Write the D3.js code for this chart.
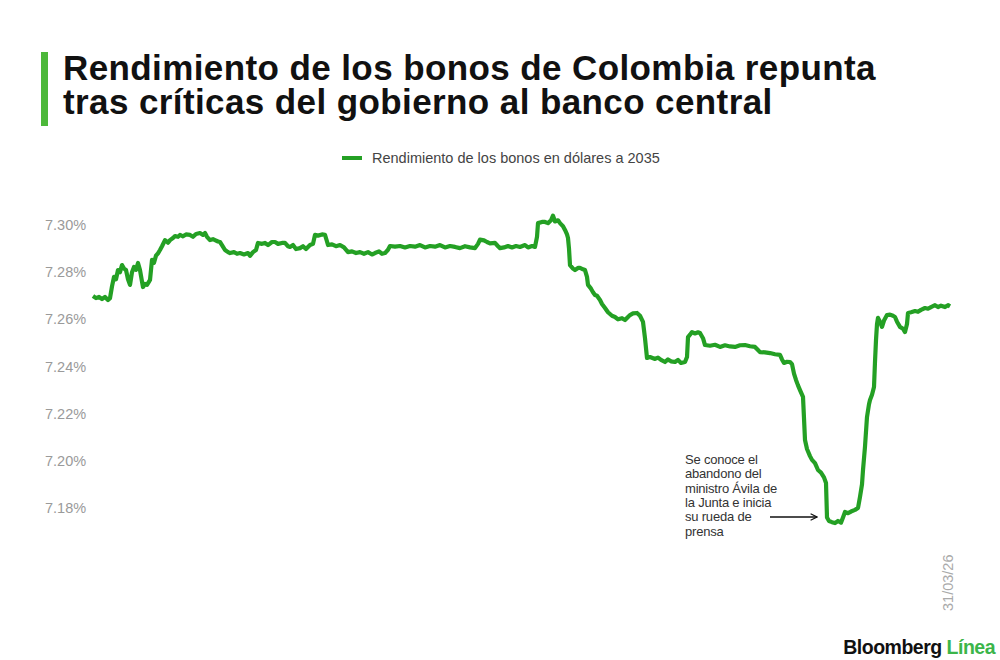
<!DOCTYPE html>
<html><head><meta charset="utf-8">
<script src="https://cdn.jsdelivr.net/npm/d3@7"></script>
<style>
html,body{margin:0;padding:0;background:#fff;}
svg{display:block;font-family:"Liberation Sans",Arial,sans-serif;}
</style></head><body>
<svg id="c" width="1000" height="660"></svg>
<script>
// Minutes elapsed since the start of the session (intraday)
const minutes = [0,3,6,9,12,15,17,19,21,23,25,27,29,31,33,35,37,39,41,43,45,47,49,50,52,54,56,57,59,61,63,65,67,69,72,75,77,80,82,85,87,90,93,97,100,103,107,110,112,114,117,120,122,125,127,129,132,135,137,141,144,147,151,155,157,160,163,165,169,172,175,179,182,185,189,192,195,197,200,203,207,210,213,217,220,222,225,229,232,234,235,239,243,247,251,255,259,263,267,271,275,279,282,286,289,292,295,297,302,307,312,317,322,327,332,337,342,347,352,357,362,367,372,377,382,385,387,391,394,397,402,405,407,411,415,419,423,427,432,435,439,442,444,445,449,452,455,458,460,462,465,467,470,472,474,475,476,477,480,482,485,487,490,492,494,495,498,500,502,504,507,509,512,515,519,522,525,529,532,535,537,540,544,547,550,552,554,557,562,565,568,572,575,578,582,585,588,592,594,595,597,599,602,605,607,610,612,617,622,627,632,637,642,647,652,657,662,665,667,672,677,682,687,689,691,694,697,699,701,703,705,707,710,711,712,714,717,719,722,725,728,731,733,734,736,739,742,745,748,750,752,755,758,762,765,767,769,770,772,774,776,777,779,781,782,783,784,785,787,789,791,794,797,800,802,804,807,810,812,814,815,818,822,825,828,832,835,838,842,845,848,852,855,857];
// Yield of the 2035 USD bond (%)
const yieldPct = [7.2699,7.2690,7.2695,7.2686,7.2695,7.2682,7.2690,7.2740,7.2780,7.2770,7.2809,7.2800,7.2830,7.2815,7.2809,7.2770,7.2746,7.2800,7.2822,7.2810,7.2839,7.2809,7.2760,7.2737,7.2750,7.2746,7.2760,7.2767,7.2852,7.2840,7.2870,7.2880,7.2894,7.2910,7.2936,7.2925,7.2936,7.2945,7.2953,7.2950,7.2958,7.2952,7.2960,7.2958,7.2950,7.2962,7.2966,7.2958,7.2966,7.2950,7.2936,7.2940,7.2936,7.2930,7.2928,7.2915,7.2894,7.2885,7.2881,7.2885,7.2878,7.2881,7.2875,7.2881,7.2869,7.2885,7.2894,7.2924,7.2920,7.2924,7.2915,7.2928,7.2928,7.2920,7.2924,7.2924,7.2910,7.2907,7.2915,7.2898,7.2902,7.2910,7.2898,7.2915,7.2920,7.2958,7.2955,7.2960,7.2958,7.2930,7.2915,7.2918,7.2910,7.2915,7.2905,7.2885,7.2888,7.2881,7.2885,7.2878,7.2885,7.2875,7.2881,7.2888,7.2878,7.2881,7.2895,7.2911,7.2908,7.2911,7.2905,7.2911,7.2908,7.2915,7.2905,7.2911,7.2908,7.2915,7.2905,7.2911,7.2907,7.2902,7.2910,7.2905,7.2902,7.2920,7.2938,7.2935,7.2928,7.2922,7.2924,7.2910,7.2902,7.2905,7.2911,7.2905,7.2911,7.2907,7.2915,7.2905,7.2911,7.2907,7.2950,7.3008,7.3013,7.3013,7.3008,7.3020,7.3040,7.3015,7.3020,7.3008,7.2995,7.2979,7.2960,7.2945,7.2900,7.2830,7.2815,7.2809,7.2818,7.2818,7.2812,7.2809,7.2780,7.2746,7.2730,7.2715,7.2703,7.2700,7.2682,7.2665,7.2648,7.2630,7.2615,7.2610,7.2600,7.2605,7.2597,7.2610,7.2618,7.2625,7.2627,7.2615,7.2589,7.2520,7.2436,7.2440,7.2432,7.2438,7.2428,7.2419,7.2430,7.2422,7.2419,7.2428,7.2415,7.2419,7.2440,7.2525,7.2535,7.2546,7.2540,7.2545,7.2542,7.2520,7.2491,7.2488,7.2492,7.2483,7.2490,7.2485,7.2483,7.2490,7.2491,7.2486,7.2483,7.2470,7.2461,7.2460,7.2457,7.2452,7.2449,7.2430,7.2415,7.2420,7.2419,7.2410,7.2370,7.2343,7.2320,7.2300,7.2271,7.2180,7.2088,7.2050,7.2020,7.2004,7.1990,7.1961,7.1950,7.1930,7.1906,7.1760,7.1745,7.1740,7.1736,7.1745,7.1738,7.1760,7.1783,7.1778,7.1785,7.1792,7.1800,7.1847,7.1900,7.1961,7.2060,7.2186,7.2240,7.2258,7.2280,7.2313,7.2420,7.2512,7.2580,7.2606,7.2590,7.2568,7.2595,7.2618,7.2620,7.2615,7.2610,7.2590,7.2568,7.2560,7.2546,7.2580,7.2627,7.2630,7.2635,7.2632,7.2640,7.2648,7.2645,7.2652,7.2660,7.2652,7.2658,7.2652,7.2660,7.2655];
const yTicks = [7.30,7.28,7.26,7.24,7.22,7.20,7.18];
const titleLines = ["Rendimiento de los bonos de Colombia repunta","tras críticas del gobierno al banco central"];
const legendLabel = "Rendimiento de los bonos en dólares a 2035";
const noteLines = ["Se conoce el","abandono del","ministro Ávila de","la Junta e inicia","su rueda de","prensa"];
const dateLabel = "31/03/26";

const data = minutes.map((m,i)=>({m, v: yieldPct[i]}));
const svg = d3.select("#c");
const green = "#24a024";

const x = d3.scaleLinear().domain([0, d3.max(minutes)]).range([93, 950]);
const y = d3.scaleLinear().domain([7.18, 7.30]).range([508, 225]);

// title
svg.append("rect").attr("x",41).attr("y",52).attr("width",7).attr("height",74).attr("fill","#4cb83a");
svg.append("g").selectAll("text").data(titleLines).join("text")
  .attr("x",63).attr("y",(d,i)=>80+i*34)
  .attr("font-size",35).attr("font-weight",700).attr("letter-spacing",0.4)
  .attr("fill","#111").text(d=>d);

// legend
svg.append("line").attr("x1",342).attr("x2",362).attr("y1",158).attr("y2",158)
  .attr("stroke",green).attr("stroke-width",4);
svg.append("text").attr("x",372).attr("y",163).attr("font-size",14.5)
  .attr("fill","#444").text(legendLabel);

// y axis
const yAxis = d3.axisLeft(y).tickValues(yTicks).tickSize(0).tickFormat(d=>d3.format(".2f")(d)+"%");
const ga = svg.append("g").attr("transform","translate(45,0)").call(yAxis);
ga.select(".domain").remove();
ga.selectAll("text").attr("text-anchor","start").attr("x",0).attr("dy","0.32em")
  .attr("font-size",14.5).attr("fill","#9a9a9a")
  .attr("font-family","'Liberation Sans',Arial,sans-serif");

// line
const line = d3.line().x(d=>x(d.m)).y(d=>y(d.v)).curve(d3.curveLinear);
svg.append("path").datum(data).attr("d",line).attr("fill","none")
  .attr("stroke",green).attr("stroke-width",4.2).attr("stroke-linejoin","round");

// annotation
svg.append("g").selectAll("text").data(noteLines).join("text")
  .attr("x",685).attr("y",(d,i)=>464+i*14.3)
  .attr("font-size",13).attr("letter-spacing",-0.2).attr("fill","#333").text(d=>d);
svg.append("defs").append("marker").attr("id","ah").attr("viewBox","0 0 10 10")
  .attr("refX",9).attr("refY",5).attr("markerWidth",8).attr("markerHeight",8)
  .attr("orient","auto").attr("markerUnits","userSpaceOnUse")
  .append("path").attr("d","M1,1 L9,5 L1,9").attr("fill","none").attr("stroke","#111").attr("stroke-width",1.4);
svg.append("line").attr("x1",770).attr("x2",817).attr("y1",517).attr("y2",517)
  .attr("stroke","#111").attr("stroke-width",1.5).attr("marker-end","url(#ah)");

// date
svg.append("text").attr("transform","translate(953,611) rotate(-90)")
  .attr("font-size",14.5).attr("fill","#aaa").text(dateLabel);

// brand
const b = svg.append("text").attr("x",995).attr("y",654).attr("text-anchor","end")
  .attr("font-size",19.5).attr("font-weight",700).attr("letter-spacing",-0.5);
b.append("tspan").attr("fill","#111").text("Bloomberg ");
b.append("tspan").attr("fill","#3bb54a").text("Línea");
</script></body></html>
